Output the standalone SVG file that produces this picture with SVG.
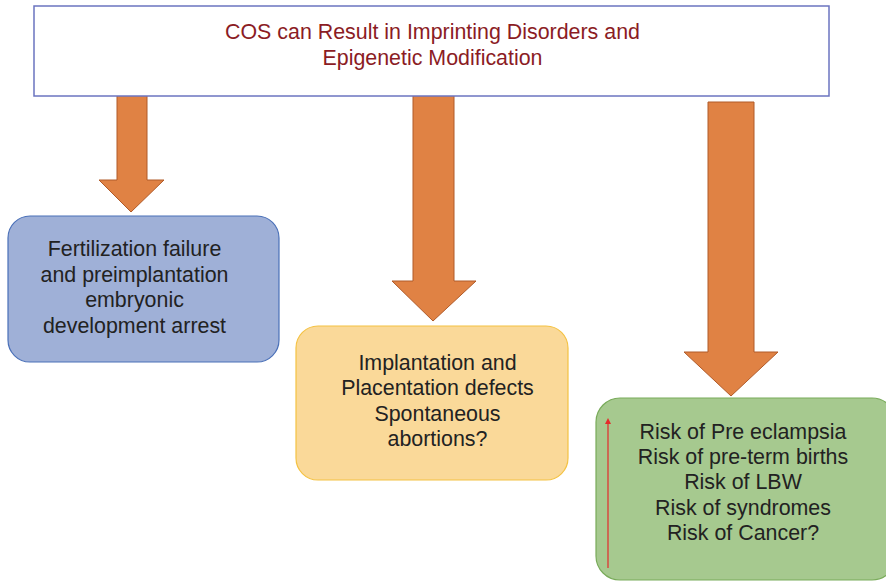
<svg xmlns="http://www.w3.org/2000/svg" width="886" height="582" viewBox="0 0 886 582">
  <style>
    .lbl { font-family: "Liberation Sans", Arial, sans-serif; font-size: 21.4px; fill: #222222; text-anchor: middle; }
    .title { font-family: "Liberation Sans", Arial, sans-serif; font-size: 21.4px; fill: #8b1c24; text-anchor: middle; }
    .arrow { fill: #e08244; stroke: #b05a28; stroke-width: 1; }
  </style>
  <defs>
    <marker id="redHead" viewBox="0 0 10 10" refX="5" refY="5" markerWidth="10" markerHeight="6" orient="auto-start-reverse" markerUnits="userSpaceOnUse">
      <path d="M0,0 L10,5 L0,10 z" fill="#e52b2b"/>
    </marker>
  </defs>
  <rect width="886" height="582" fill="#ffffff"/>

  <!-- Block arrows -->
  <g id="connectors">
    <polygon class="arrow" points="117,95 147,95 147,180 164,180 131,212 99,180 117,180"/>
    <polygon class="arrow" points="413,95 454,95 454,281 476,281 433,321 392,281 413,281"/>
    <polygon class="arrow" points="708,102 754,102 754,352 778,352 731,396 684,352 708,352"/>
  </g>

  <g id="cos">
    <rect x="34" y="6" width="795" height="90" fill="#ffffff" stroke="#6b74c0" stroke-width="1.5"/>
    <text class="title" x="432.5" y="39">COS can Result in Imprinting Disorders and</text>
    <text class="title" x="432.5" y="65">Epigenetic Modification</text>
  </g>

  <g id="fertilization">
    <rect x="8" y="216" width="271" height="146" rx="22" fill="#9fb0d7" stroke="#4a70b8" stroke-width="1.2"/>
    <text class="lbl" x="134.5" y="256">Fertilization failure</text>
    <text class="lbl" x="134.5" y="282">and preimplantation</text>
    <text class="lbl" x="134.5" y="307">embryonic</text>
    <text class="lbl" x="134.5" y="333">development arrest</text>
  </g>

  <g id="implantation">
    <rect x="296" y="326" width="272" height="154" rx="22" fill="#fad999" stroke="#f4c243" stroke-width="1.2"/>
    <text class="lbl" x="437.5" y="370">Implantation and</text>
    <text class="lbl" x="437.5" y="395">Placentation defects</text>
    <text class="lbl" x="437.5" y="421">Spontaneous</text>
    <text class="lbl" x="437.5" y="446">abortions?</text>
  </g>

  <g id="risks">
    <rect x="596" y="398" width="300" height="182" rx="24" fill="#a6c98f" stroke="#79ab5a" stroke-width="1.2"/>
    <line x1="608" y1="568" x2="608" y2="421" stroke="#e52b2b" stroke-width="1.2" marker-end="url(#redHead)"/>
    <text class="lbl" x="743" y="439">Risk of Pre eclampsia</text>
    <text class="lbl" x="743" y="464">Risk of pre-term births</text>
    <text class="lbl" x="743" y="489">Risk of LBW</text>
    <text class="lbl" x="743" y="515">Risk of syndromes</text>
    <text class="lbl" x="743" y="540">Risk of Cancer?</text>
  </g>
</svg>
